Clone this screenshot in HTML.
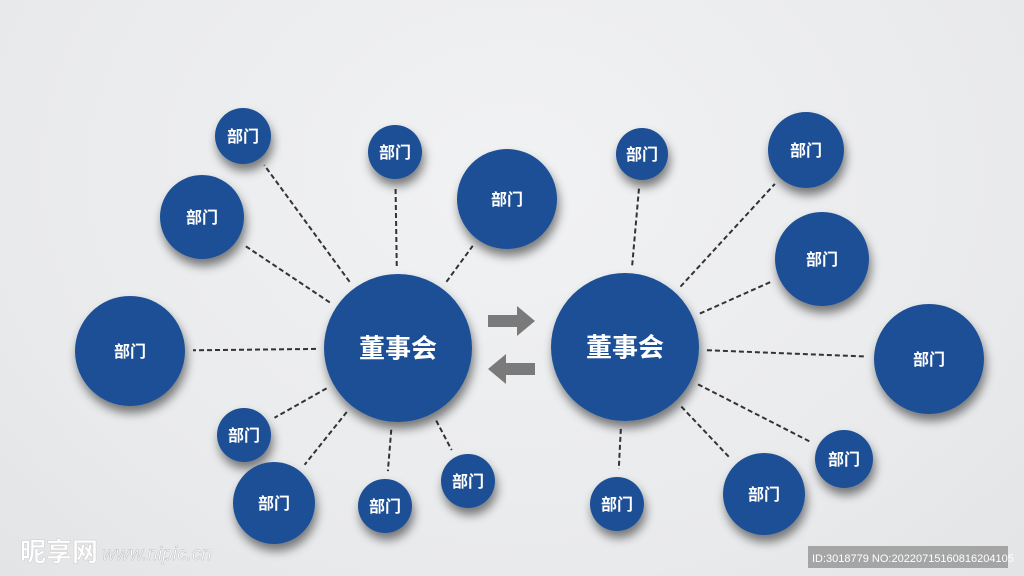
<!DOCTYPE html>
<html><head><meta charset="utf-8">
<style>
html,body{margin:0;padding:0;}
body{width:1024px;height:576px;overflow:hidden;background:radial-gradient(ellipse at 50% 30%,#f1f2f3 0%,#e9eaec 70%,#e2e4e6 100%);font-family:"Liberation Sans","Noto Sans CJK SC",sans-serif;}
svg{position:absolute;left:0;top:0;}
</style></head>
<body>
<svg id="s" width="1024" height="576" viewBox="0 0 1024 576">
<defs>
<filter id="sh" x="-40%" y="-40%" width="180%" height="190%">
<feGaussianBlur in="SourceAlpha" stdDeviation="5"/>
<feOffset dx="2" dy="7"/>
<feComponentTransfer><feFuncA type="linear" slope="0.5"/></feComponentTransfer>
<feMerge><feMergeNode/><feMergeNode in="SourceGraphic"/></feMerge>
</filter>
</defs>
<g id="lines" stroke="#333" stroke-width="2" stroke-dasharray="5,3"></g>
<g id="circ"></g>
<path d="M488 315 H517 V306 L535 321 L517 336 V327 H488 Z" fill="#7a7a7a"/>
<path d="M535 363 H506 V354 L488 369 L506 384 V375 H535 Z" fill="#7a7a7a"/>
<text x="20" y="561" font-size="26" font-weight="bold" fill="#fff" stroke="#ccc" stroke-width="0.5" font-family="Noto Sans CJK SC,sans-serif">昵享网</text>
<text x="102" y="560" font-size="19" font-style="italic" fill="#fff" stroke="#bbb" stroke-width="0.5">www.nipic.cn</text>
<rect x="808" y="546" width="200" height="22" fill="#999" opacity="0.85"/>
<text x="812" y="562" font-size="11" fill="#fff">ID:3018779 NO:20220715160816204105</text>
</svg>
<script>
var hubs=[[398,348,74],[625,347,74]];
var L=[[243,136,28],[395,152,27],[202,217,42],[507,199,50],[130,351,55],[244,435,27],[274,503,41],[385,506,27],[468,481,27]];
var R=[[642,154,26],[806,150,38],[822,259,47],[929,359,55],[844,459,29],[764,494,41],[617,504,27]];
var ns="http://www.w3.org/2000/svg",lg=document.getElementById('lines'),cg=document.getElementById('circ');
function line(h,n){var dx=n[0]-h[0],dy=n[1]-h[1],d=Math.hypot(dx,dy),ux=dx/d,uy=dy/d;
var l=document.createElementNS(ns,'line');
l.setAttribute('x1',h[0]+ux*(h[2]+8));l.setAttribute('y1',h[1]+uy*(h[2]+8));
l.setAttribute('x2',n[0]-ux*(n[2]+8));l.setAttribute('y2',n[1]-uy*(n[2]+8));lg.appendChild(l);}
function circ(c,t,fs){var e=document.createElementNS(ns,'circle');e.setAttribute('cx',c[0]);e.setAttribute('cy',c[1]);e.setAttribute('r',c[2]);e.setAttribute('fill','#1c5095');e.setAttribute('filter','url(#sh)');cg.appendChild(e);
var x=document.createElementNS(ns,'text');x.setAttribute('x',c[0]);x.setAttribute('y',c[1]+fs*0.36);x.setAttribute('text-anchor','middle');x.setAttribute('font-size',fs);x.setAttribute('font-weight','bold');x.setAttribute('fill','#fff');x.setAttribute('font-family','"Noto Sans CJK SC",sans-serif');x.textContent=t;cg.appendChild(x);}
L.forEach(function(n){line(hubs[0],n);});R.forEach(function(n){line(hubs[1],n);});
hubs.forEach(function(h){circ(h,'董事会',26);});
L.concat(R).forEach(function(n){circ(n,'部门',16);});
</script>
</body></html>
